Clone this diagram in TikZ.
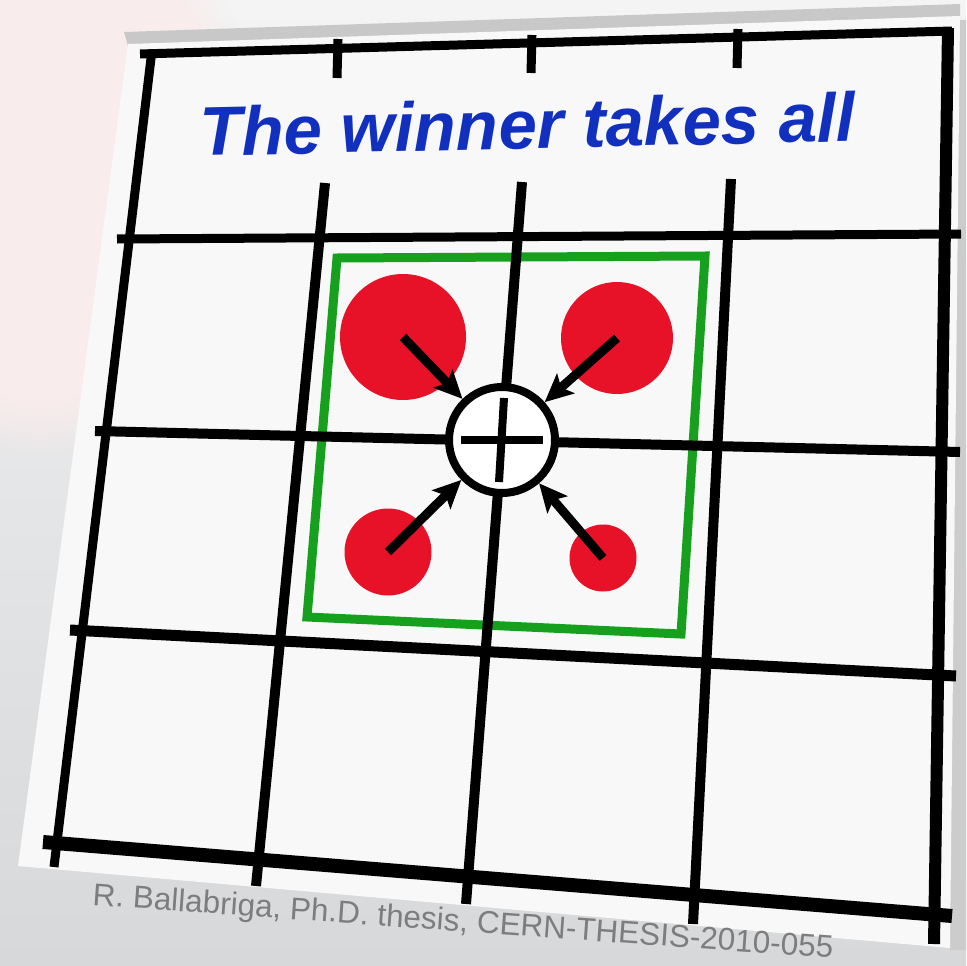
\documentclass[tikz,border=0pt]{standalone}
\usepackage{fontspec}
\setmainfont{Liberation Sans}
\usetikzlibrary{arrows.meta,fadings}
\definecolor{dotred}{RGB}{232,18,40}
\definecolor{boxgreen}{RGB}{22,160,30}
\definecolor{titleblue}{RGB}{18,48,190}
\definecolor{creditgray}{RGB}{125,125,125}
\definecolor{bgtop}{RGB}{244,244,244}
\definecolor{bgbot}{RGB}{214,216,218}
\definecolor{paperface}{RGB}{248,248,248}
\definecolor{paperedge}{RGB}{200,200,200}
\definecolor{pinktint}{RGB}{249,236,236}
\begin{document}
\begin{tikzpicture}[x=1pt,y=-1pt,
  gridline/.style={line width=10pt, black},
  dot/.style={circle, fill=dotred, inner sep=0pt},
  sumnode/.style={circle, draw=black, line width=8pt, fill=white, minimum size=106pt, inner sep=0pt},
  arr/.style={line width=9pt, black, -{Stealth[length=28pt,width=26pt,inset=6pt]}},
  greenbox/.style={draw=boxgreen, line width=9pt, line join=miter},
]
\useasboundingbox (0,0) rectangle (966,966);
% background
\shade[top color=bgtop, bottom color=bgbot] (0,0) rectangle (966,966);
\fill[pinktint, path fading=circle with fuzzy edge 20 percent] (40,160) ellipse [x radius=220pt, y radius=300pt];
\fill[gray!40] (952,20) -- (966,20) -- (966,950) -- (950,950) -- cycle;
% paper
\fill[paperedge] (124,32) -- (960,4) -- (960,18) -- (128,46) -- cycle;
\fill[paperface] (128,44) -- (960,16) -- (950,948) -- (18,866) -- cycle;
% green box
\draw[greenbox] (337,258) -- (705,256) -- (681,634) -- (307,617) -- cycle;
% grid coordinates
\coordinate (h0a) at (140,54);  \coordinate (h0b) at (952,31);
\coordinate (h1a) at (117,239); \coordinate (h1b) at (961,234);
\coordinate (h2a) at (95,431);  \coordinate (h2b) at (960,452);
\coordinate (h3a) at (70,630);  \coordinate (h3b) at (956,676);
\coordinate (h4a) at (43,842);  \coordinate (h4b) at (952,916);
\coordinate (v0a) at (152,50);  \coordinate (v0b) at (54,867);
\coordinate (v1t) at (338,39);  \coordinate (v1u) at (337,78);
\coordinate (v1a) at (325,183); \coordinate (v1b) at (256,886);
\coordinate (v2t) at (532,35);  \coordinate (v2u) at (531,73);
\coordinate (v2a) at (522,182); \coordinate (v2b) at (466,904);
\coordinate (v3t) at (738,29);  \coordinate (v3u) at (737,68);
\coordinate (v3a) at (731,179); \coordinate (v3b) at (693,924);
\coordinate (v4a) at (948,28);  \coordinate (v4b) at (934,944);
% grid lines
\draw[gridline, line width=9pt] (h0a) -- (h0b);
\draw[gridline, line width=9pt] (h1a) -- (h1b);
\draw[gridline] (h2a) -- (h2b);
\draw[gridline, line width=11pt] (h3a) -- (h3b);
\draw[gridline, line width=14pt] (h4a) -- (h4b);
\draw[gridline, line width=9pt] (v0a) -- (v0b);
\draw[gridline, line width=9pt] (v1t) -- (v1u);
\draw[gridline, line width=9pt] (v2t) -- (v2u);
\draw[gridline, line width=9pt] (v3t) -- (v3u);
\draw[gridline] (v1a) -- (v1b);
\draw[gridline] (v2a) -- (v2b);
\draw[gridline] (v3a) -- (v3b);
\draw[gridline, line width=12pt] (v4a) -- (v4b);
% red dots
\node[dot, minimum size=126pt] (tl) at (403,337) {};
\node[dot, minimum size=112pt] (tr) at (617,338) {};
\node[dot, minimum size=87pt] (bl) at (388,552) {};
\node[dot, minimum size=67pt] (br) at (603,558) {};
% central sum node
\node[sumnode] (sum) at (502,440) {};
\draw[line width=8pt] ([xshift=-41pt]sum.center) -- ([xshift=41pt]sum.center);
\draw[line width=8pt] ([xshift=2pt,yshift=42pt]sum.center) -- ([xshift=-3pt,yshift=-42pt]sum.center);
% arrows
\draw[arr] (tl.center) -- (sum);
\draw[arr] (tr.center) -- (sum);
\draw[arr] (bl.center) -- (sum);
\draw[arr] (br.center) -- (sum);
% texts
\node[anchor=base west, rotate=1.3, text=titleblue, inner sep=0pt,
      font=\fontsize{69}{69}\selectfont\bfseries\itshape] (title) at (200,156)
      {The winner takes all};
\node[anchor=base west, rotate=-4.1, text=creditgray, inner sep=0pt,
      font=\fontsize{31.5}{31.5}\selectfont] (credit) at (92,905)
      {R. Ballabriga, Ph.D. thesis, CERN-THESIS-2010-055};
\end{tikzpicture}
\end{document}
